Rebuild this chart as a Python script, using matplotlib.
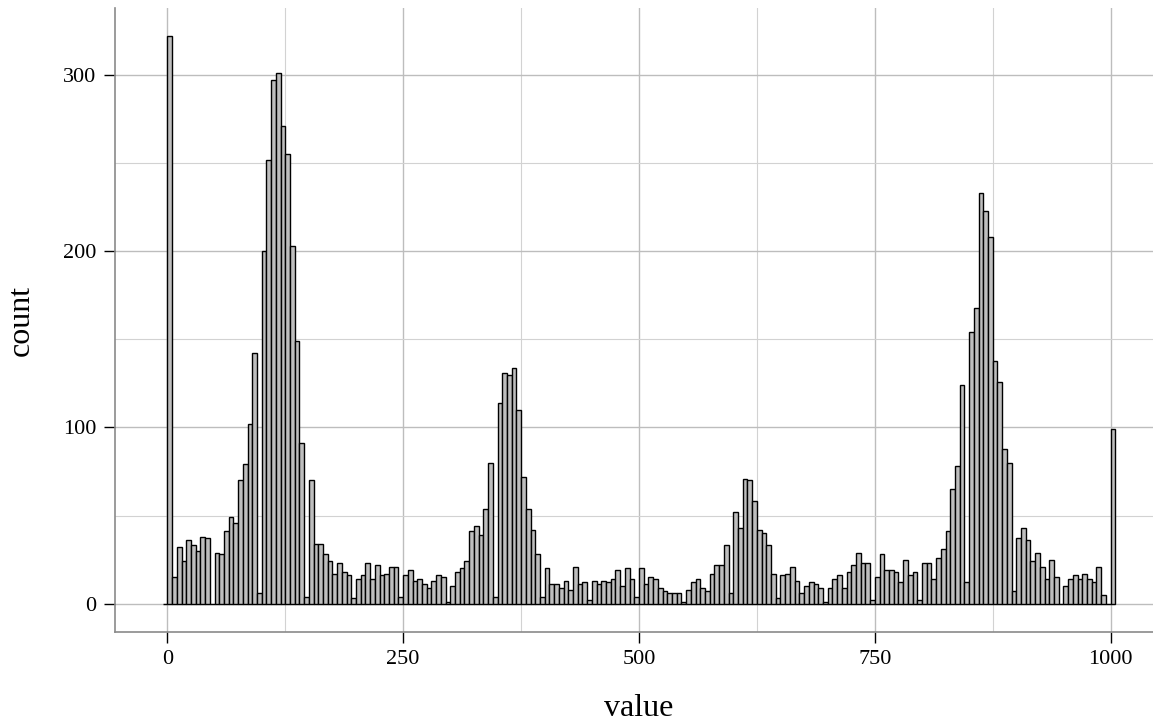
import numpy as np
import matplotlib
matplotlib.use("Agg")
import matplotlib.pyplot as plt
from matplotlib.ticker import MultipleLocator

plt.rcParams['font.family'] = ['Liberation Serif', 'DejaVu Serif']

# histogram: bins of width 5, first (empty) bin starts at -5
bin_width = 5
first_edge = -5
counts = [
    0,
    322, 15, 32, 24, 36, 33, 30, 38, 37, 0,
    29, 28, 41, 49, 46, 70, 79, 102, 142, 6,
    200, 252, 297, 301, 271, 255, 203, 149, 91, 4,
    70, 34, 34, 28, 24, 17, 23, 18, 16, 3,
    14, 16, 23, 14, 22, 16, 17, 21, 21, 4,
    16, 19, 13, 14, 11, 9, 13, 16, 15, 1,
    10, 18, 20, 24, 41, 44, 39, 54, 80, 4,
    114, 131, 130, 134, 110, 72, 54, 42, 28, 4,
    20, 11, 11, 9, 13, 8, 21, 11, 12, 2,
    13, 11, 13, 12, 14, 19, 10, 20, 14, 4,
    20, 11, 15, 14, 9, 7, 6, 6, 6, 1,
    8, 12, 14, 9, 7, 17, 22, 22, 33, 6,
    52, 43, 71, 70, 58, 42, 40, 33, 17, 3,
    16, 17, 21, 13, 6, 10, 12, 11, 9, 1,
    9, 14, 16, 9, 18, 22, 29, 23, 23, 2,
    15, 28, 19, 19, 18, 12, 25, 16, 18, 2,
    23, 23, 14, 26, 31, 41, 65, 78, 124, 12,
    154, 168, 233, 223, 208, 138, 126, 88, 80, 7,
    37, 43, 36, 24, 29, 21, 14, 25, 15, 0,
    10, 14, 16, 14, 17, 14, 12, 21, 5, 0,
    99,
]

x_ticks = [0, 250, 500, 750, 1000]
y_ticks = [0, 100, 200, 300]

left_edges = first_edge + bin_width * np.arange(len(counts))

fig = plt.figure(figsize=(11.53, 7.25), dpi=100)
# the panel runs a little past the right edge of the picture
ax = fig.add_axes([115 / 1153, 93 / 725, 1048 / 1153, 624 / 725])

ax.bar(left_edges, counts, width=bin_width, align='edge',
       color='#bebebe', edgecolor='black', linewidth=1.0, zorder=3)

ax.set_xlim(-55.5, 1055.5)
ax.set_ylim(-16.1, 338.1)

ax.set_xticks(x_ticks)
ax.set_yticks(y_ticks)
ax.xaxis.set_minor_locator(MultipleLocator(125))
ax.yaxis.set_minor_locator(MultipleLocator(50))
ax.set_axisbelow(True)
ax.grid(which='major', color='#bdbdbd', linewidth=1.0)
ax.grid(which='minor', color='#d2d2d2', linewidth=0.8)

for s in ['top', 'right']:
    ax.spines[s].set_visible(False)
for s in ['left', 'bottom']:
    ax.spines[s].set_color('#8a8a8a')
    ax.spines[s].set_linewidth(1.2)

ax.tick_params(which='major', length=8, width=1, color='black',
               labelsize=16)
ax.tick_params(axis='y', pad=5.5)
ax.tick_params(axis='x', pad=5)
ax.tick_params(which='minor', length=0)

ax.set_xlabel('value', fontsize=23, va='baseline')
ax.set_ylabel('count', fontsize=23, va='baseline')
ax.xaxis.set_label_coords(0.5, -0.134)
ax.yaxis.set_label_coords(-0.082, 0.5)

fig.savefig('out.png', dpi=100)
